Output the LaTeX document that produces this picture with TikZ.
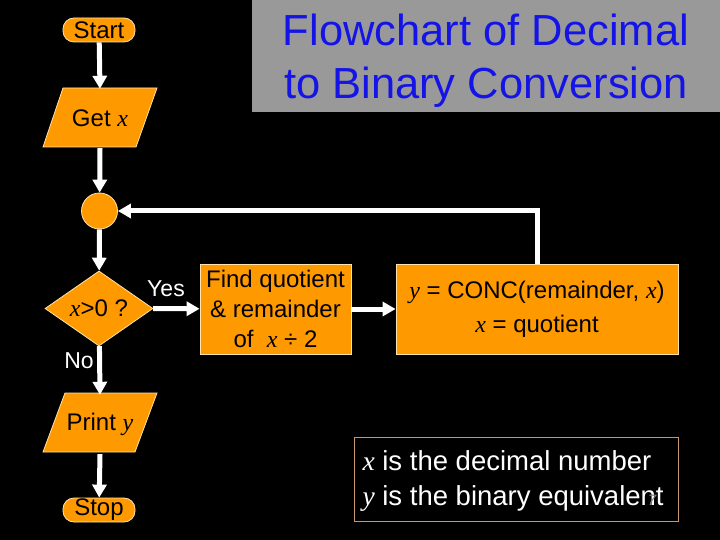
\documentclass[tikz,border=0pt]{standalone}
\usepackage{fontspec}
\setmainfont{Liberation Sans}
\newfontfamily\tms{Liberation Serif}
\usetikzlibrary{arrows.meta,shapes.geometric}
\newcommand\vx{{\tms\itshape x}}
\newcommand\vy{{\tms\itshape y}}
\definecolor{flowor}{RGB}{255,153,0}
\definecolor{edgecream}{RGB}{255,228,170}
\definecolor{titlegray}{RGB}{153,153,153}
\definecolor{titleblue}{RGB}{20,20,230}
\definecolor{legtan}{RGB}{200,150,110}
\tikzset{
  boxtext/.style={font=\fontsize{24}{30}\selectfont, text=black, align=center},
  term/.style={boxtext, rectangle, rounded corners=11pt, fill=flowor, draw=edgecream, line width=0.8pt, minimum width=72pt, minimum height=24pt, inner sep=0pt},
  procbox/.style={boxtext, rectangle, fill=flowor, draw=edgecream, line width=0.8pt, minimum height=90pt, inner sep=0pt},
  ioshape/.style={fill=flowor, draw=edgecream, line width=0.8pt},
  iotext/.style={boxtext, rectangle, inner sep=0pt},
  flowarr/.style={draw=white, line width=5pt, -{Triangle[width=14pt,length=13pt]}},
  lbl/.style={font=\fontsize{23}{27}\selectfont, text=white}
}
\begin{document}
\begin{tikzpicture}[x=1pt,y=-1pt]
\useasboundingbox (0,0) rectangle (720,540);
\fill[black] (0,0) rectangle (720,540);
% title
\fill[titlegray] (252,0) rectangle (720,112);
\node[font=\fontsize{43.5}{53}\selectfont, text=titleblue, align=center] (title) at (486,61) {Flowchart of Decimal\\to Binary Conversion};
% start
\node[term] (start) at (99,30) {Start};
% get x
\path[ioshape] (63,88) -- (157,88) -- (136,147) -- (43,147) -- cycle;
\node[iotext, minimum width=94pt, minimum height=59pt] (getx) at (100,118.5) {Get \vx};
% connector
\node[circle, fill=flowor, draw=edgecream, line width=0.8pt, minimum size=36pt, inner sep=0pt] (conn) at (99.5,211) {};
% decision
\node[diamond, boxtext, fill=flowor, draw=edgecream, line width=0.8pt, minimum width=108pt, minimum height=71pt, inner sep=0pt] (dec) at (99,308.5) {\vx>0 ?};
% find box
\node[procbox, minimum width=151pt] (find) at (275.5,309) {Find quotient\\\& remainder\\of\ \ \vx\ ÷ 2};
% y box
\node[procbox, minimum width=282pt, font=\fontsize{24}{34}\selectfont] (ybox) at (537,309) {\vy{} = CONC(remainder, \vx)\\\vx{} = quotient};
% print y
\path[ioshape] (65,393) -- (157,393) -- (135,452) -- (43,452) -- cycle;
\node[iotext, minimum width=94pt, minimum height=59pt] (print) at (100,424.5) {Print \vy};
% stop
\node[term] (stop) at (99,510) {Stop};
% legend
\node[draw=legtan, line width=0.8pt, minimum width=324pt, minimum height=84pt, inner sep=0pt] (legbox) at (516,479) {};
\node[anchor=west, text=white, align=left, font=\fontsize{27.5}{35}\selectfont] (legtext) at (359,481) {\vx{} is the decimal number\\\vy{} is the binary equivalent};
\node[text=gray, font=\fontsize{15}{18}\selectfont\itshape] (pgnum) at (652,500) {7};
% connectors
\draw[flowarr] (start) -- (getx.north);
\draw[flowarr] (getx.south) -- (conn);
\draw[flowarr] (conn) -- (dec);
\draw[flowarr] (dec) -- (find);
\draw[flowarr] (find) -- (ybox);
\draw[flowarr] (ybox.north) |- (conn.east);
\draw[flowarr] (dec) -- (print.north);
\draw[flowarr] (print.south) -- (stop);
% labels
\node[lbl] (yes) at (166,289) {Yes};
\node[lbl] (no) at (79,361) {No};
\end{tikzpicture}
\end{document}
